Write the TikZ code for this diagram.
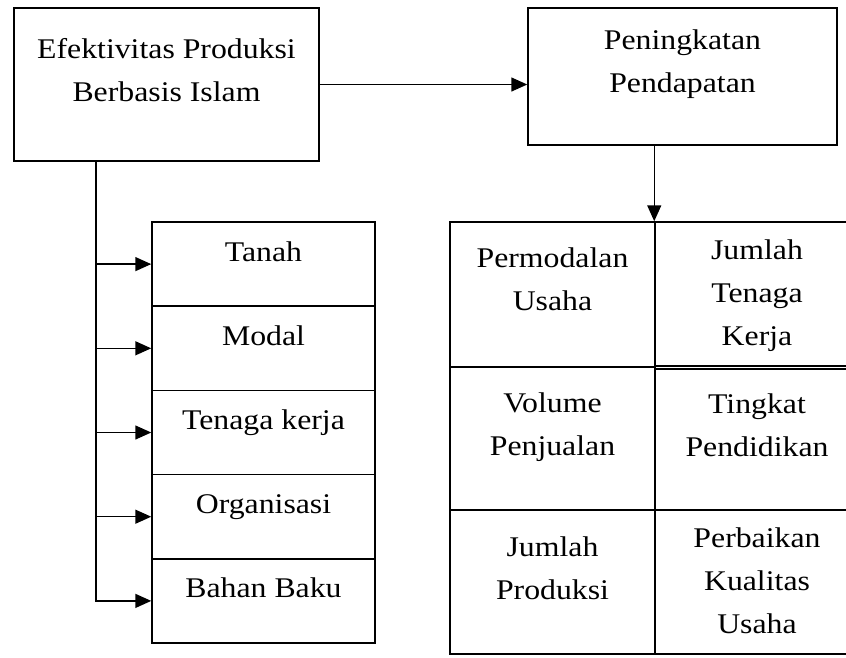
\documentclass[tikz,border=0pt]{standalone}
\usepackage{fontspec}
\setmainfont[FakeStretch=1.115]{Liberation Serif}
\usetikzlibrary{arrows.meta}

\begin{document}
\begin{tikzpicture}[x=1pt,y=-1pt,line width=1.5pt,>={Triangle[length=16pt,width=14pt]},
  kotak/.style={draw,inner sep=0pt},
  teks/.style={anchor=base,inner sep=0pt,align=center,font=\fontsize{28.5}{43}\selectfont}]

\useasboundingbox (0,0) rectangle (846,657);
\clip (0,0) rectangle (846,657);

% --- Kotak atas ---
\node[kotak,minimum width=305pt,minimum height=153pt] (efektif) at (166.5,84.5) {};
\node[teks] (tefektif) at (166.5,101.7) {Efektivitas Produksi\\Berbasis Islam};

\node[kotak,minimum width=309pt,minimum height=137pt] (pendapatan) at (682.5,76.5) {};
\node[teks] (tpendapatan) at (682.5,92.7) {Peningkatan\\Pendapatan};

% --- Faktor produksi (kiri) ---
\node[kotak,minimum width=223pt,minimum height=84.2pt] (tanah) at (263.5,264.1) {};
\node[kotak,minimum width=223pt,minimum height=84.2pt] (modal) at (263.5,348.3) {};
\node[kotak,minimum width=223pt,minimum height=84.2pt] (tenaga) at (263.5,432.5) {};
\node[kotak,minimum width=223pt,minimum height=84.2pt] (organisasi) at (263.5,516.7) {};
\node[kotak,minimum width=223pt,minimum height=84.2pt] (bahan) at (263.5,600.9) {};
\node[teks] (ttanah) at (263.5,261.7) {Tanah};
\node[teks] (tmodal) at (263.5,345.7) {Modal};
\node[teks] (ttenaga) at (263.5,429.3) {Tenaga kerja};
\node[teks] (torganisasi) at (263.5,513.3) {Organisasi};
\node[teks] (tbahan) at (263.5,597.3) {Bahan Baku};

% --- Indikator pendapatan (kanan) ---
\node[kotak,minimum width=205pt,minimum height=145pt] (p1) at (552.5,294.5) {};
\node[kotak,minimum width=205pt,minimum height=143pt] (p2) at (552.5,438.5) {};
\node[kotak,minimum width=205pt,minimum height=144pt] (p3) at (552.5,582) {};
\node[kotak,minimum width=204pt,minimum height=144pt] (q1) at (757,294) {};
\node[kotak,minimum width=204pt,minimum height=141pt] (q2) at (757,439.5) {};
\node[kotak,minimum width=204pt,minimum height=144pt] (q3) at (757,582) {};
\node[teks] (tp1) at (552.5,310) {Permodalan\\Usaha};
\node[teks] (tq1) at (757,345) {Jumlah\\Tenaga\\Kerja};
\node[teks] (tp2) at (552.5,455) {Volume\\Penjualan};
\node[teks] (tq2) at (757,456) {Tingkat\\Pendidikan};
\node[teks] (tp3) at (552.5,599.3) {Jumlah\\Produksi};
\node[teks] (tq3) at (757,633.3) {Perbaikan\\Kualitas\\Usaha};

% --- Panah ---
\draw[->] (efektif.east) -- (pendapatan.west |- efektif.east);
\draw[->] (pendapatan.south -| q1.north west) -- (q1.north west);

\coordinate (batang) at (96,161);
\draw[->] (efektif.south -| batang) |- (bahan.west);
\draw[->] (batang |- tanah.west) -- (tanah.west);
\draw[->] (batang |- modal.west) -- (modal.west);
\draw[->] (batang |- tenaga.west) -- (tenaga.west);
\draw[->] (batang |- organisasi.west) -- (organisasi.west);

\end{tikzpicture}
\end{document}
